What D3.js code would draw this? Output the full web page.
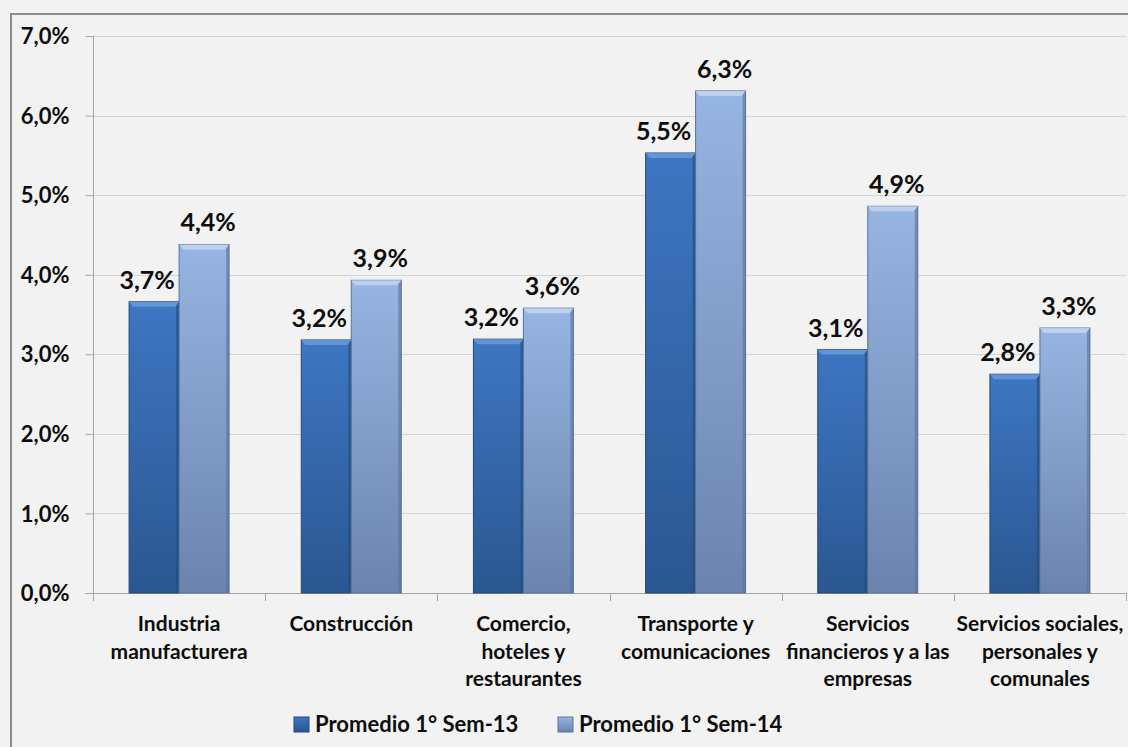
<!DOCTYPE html>
<html>
<head lang="es">
	<meta charset="UTF-8">
	<title>Promedio 1° Sem</title>
	<style>
	body { margin: 0; background: #f2f2f2; }
	text { font-family: Lato, "Open Sans", sans-serif; font-weight: bold; fill: #0d0d0d; }
	.grid line { stroke: #d4d4d4; }
	.axis path, .axis line { stroke: #a6a6a6; }
	</style>
	<script src="https://cdn.jsdelivr.net/npm/d3@7"></script>
</head>
<body>
<script>
	var categories = [
		"Industria\nmanufacturera",
		"Construcción",
		"Comercio,\nhoteles y\nrestaurantes",
		"Transporte y\ncomunicaciones",
		"Servicios\nfinancieros y a las\nempresas",
		"Servicios sociales,\npersonales y\ncomunales"
	];
	var sem13 = [3.66, 3.18, 3.19, 5.53, 3.06, 2.75];
	var sem14 = [4.38, 3.93, 3.58, 6.31, 4.86, 3.33];
	var labels13 = ["3,7%", "3,2%", "3,2%", "5,5%", "3,1%", "2,8%"];
	var labels14 = ["4,4%", "3,9%", "3,6%", "6,3%", "4,9%", "3,3%"];
	var seriesNames = ["Promedio 1° Sem-13", "Promedio 1° Sem-14"];
	var yTicks = [0, 1, 2, 3, 4, 5, 6, 7];

	var width = 1128, height = 747;
	var plotLeft = 93, plotRight = 1126, plotTop = 36, plotBottom = 593;

	var svg = d3.select("body").append("svg")
		.attr("width", width)
		.attr("height", height);

	// gradients for the two series
	var defs = svg.append("defs");
	var grads = [
		{id: "g13", top: "#3d76c2", bottom: "#2b5791", edge: "#234a7c", bevel: "#6b9ad8"},
		{id: "g14", top: "#97b5e2", bottom: "#6a84ae", edge: "#5b729a", bevel: "#c3d5f1"}
	];
	grads.forEach(function(g){
		var lg = defs.append("linearGradient").attr("id", g.id)
			.attr("x1", 0).attr("y1", 0).attr("x2", 0).attr("y2", 1);
		lg.append("stop").attr("offset", "0%").attr("stop-color", g.top);
		lg.append("stop").attr("offset", "100%").attr("stop-color", g.bottom);
	});

	// outer frame
	svg.append("path")
		.attr("d", "M11," + height + "V14H" + width)
		.attr("fill", "none")
		.attr("stroke", "#8c8c8c")
		.attr("stroke-width", 2);

	var x0 = d3.scaleBand().domain(d3.range(categories.length)).range([plotLeft, plotRight]);
	var x1 = d3.scaleBand().domain([0, 1]).range([0, 100]);
	var y = d3.scaleLinear().domain([0, 7]).range([plotBottom, plotTop]);
	var barOffset = (x0.bandwidth() - 100) / 2;

	// gridlines
	svg.append("g").attr("class", "grid")
		.selectAll("line").data(yTicks.slice(1)).enter().append("line")
		.attr("x1", plotLeft).attr("x2", plotRight)
		.attr("y1", function(d){ return Math.round(y(d)) + 0.5; })
		.attr("y2", function(d){ return Math.round(y(d)) + 0.5; });

	// y axis
	var yAxis = svg.append("g").attr("class", "axis")
		.attr("transform", "translate(" + (plotLeft + 0.5) + ",0)")
		.call(d3.axisLeft(y).tickValues(yTicks).tickSize(8).tickSizeOuter(0)
			.tickFormat(function(d){ return d3.format(".1f")(d).replace(".", ",") + "%"; }));
	yAxis.select(".domain").attr("d", "M0," + y(0) + "V" + y(7));
	yAxis.selectAll("text").attr("x", -24).attr("dy", "0.35em")
		.style("font-size", "22px").attr("fill", "#0d0d0d");

	// x axis line and ticks
	var xa = svg.append("g").attr("class", "axis");
	xa.append("line").attr("x1", plotLeft - 8).attr("x2", plotRight).attr("y1", plotBottom + 0.5).attr("y2", plotBottom + 0.5);
	xa.selectAll(".xt").data(d3.range(categories.length + 1)).enter().append("line")
		.attr("class", "xt")
		.attr("x1", function(i){ return Math.round(plotLeft + i * x0.step()) + 0.5; })
		.attr("x2", function(i){ return Math.round(plotLeft + i * x0.step()) + 0.5; })
		.attr("y1", plotBottom).attr("y2", plotBottom + 8);

	// bars
	var data = [];
	categories.forEach(function(c, i){
		data.push({cat: i, s: 0, v: sem13[i], label: labels13[i]});
		data.push({cat: i, s: 1, v: sem14[i], label: labels14[i]});
	});

	var bars = svg.append("g").selectAll("g").data(data).enter().append("g")
		.attr("transform", function(d){ return "translate(" + (x0(d.cat) + barOffset + x1(d.s)) + ",0)"; });

	bars.append("rect")
		.attr("x", 0).attr("width", x1.bandwidth())
		.attr("y", function(d){ return y(d.v); })
		.attr("height", function(d){ return y(0) - y(d.v); })
		.attr("fill", function(d){ return "url(#" + grads[d.s].id + ")"; })
		.attr("stroke", function(d){ return grads[d.s].edge; })
		.attr("stroke-width", 1);

	// bevel on top
	bars.append("path")
		.attr("d", function(d){
			var t = y(d.v), w = x1.bandwidth();
			return "M0," + t + "H" + w + "L" + (w - 4) + "," + (t + 5) + "H4Z";
		})
		.attr("fill", function(d){ return grads[d.s].bevel; })
		.attr("opacity", 0.85);
	bars.append("path")
		.attr("d", function(d){
			var t = y(d.v), w = x1.bandwidth();
			return "M" + w + "," + t + "V" + y(0) + "H" + (w - 3) + "V" + (t + 4) + "Z";
		})
		.attr("fill", function(d){ return grads[d.s].edge; })
		.attr("opacity", 0.6);

	// data labels
	bars.append("text")
		.attr("x", function(d){ return x1.bandwidth() / 2 + (d.s ? 4 : -7); })
		.attr("y", function(d){ return y(d.v) - 13; })
		.attr("text-anchor", "middle")
		.style("font-size", "25px")
		.text(function(d){ return d.label; });

	// category labels
	var cl = svg.append("g").selectAll("text").data(categories).enter().append("text")
		.attr("x", function(d, i){ return x0(i) + x0.bandwidth() / 2; })
		.attr("y", 631)
		.attr("text-anchor", "middle")
		.style("font-size", "21px");
	cl.each(function(d){
		var t = d3.select(this);
		d.split("\n").forEach(function(line, k){
			t.append("tspan")
				.attr("x", t.attr("x"))
				.attr("y", 631 + k * 27.5)
				.text(line);
		});
	});

	// legend
	var legendX = [294, 558];
	var lg = svg.append("g").selectAll("g").data(seriesNames).enter().append("g")
		.attr("transform", function(d, i){ return "translate(" + legendX[i] + ",717)"; });
	lg.append("rect").attr("width", 15).attr("height", 15)
		.attr("fill", function(d, i){ return "url(#" + grads[i].id + ")"; })
		.attr("stroke", function(d, i){ return grads[i].edge; });
	lg.append("text").attr("x", 21).attr("y", 15)
		.style("font-size", "22px")
		.text(function(d){ return d; });
</script>
</body>
</html>
